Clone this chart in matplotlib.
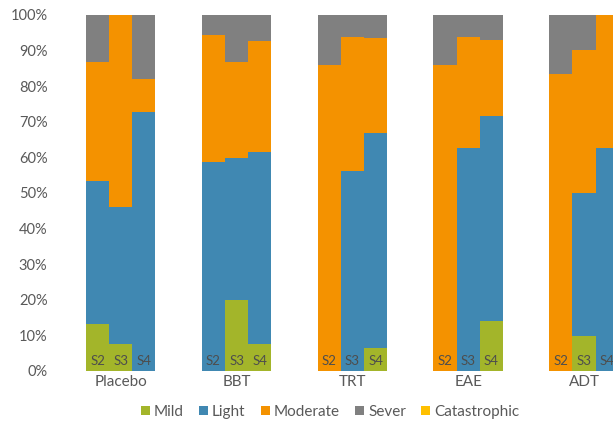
import numpy as np
import matplotlib.pyplot as plt
from matplotlib.patches import Patch

plt.rcParams['font.family'] = ['Lato', 'DejaVu Sans']

groups = ['Placebo', 'BBT', 'TRT', 'EAE', 'ADT']
stages = ['S2', 'S3', 'S4']
levels = ['Mild', 'Light', 'Moderate', 'Sever', 'Catastrophic']
colors = ['#a3b52a', '#4088b2', '#f49200', '#808080', '#ffc000']

# percent per stage, groups in order, stages S2/S3/S4 within each group
mild = [13.1, 7.5, 0.0,   0.0, 19.9, 7.6,   0.0, 0.0, 6.6,    0.0, 0.0, 14.1,   0.0, 9.9, 0.0]
light = [40.3, 38.7, 72.8, 58.7, 39.9, 54.0, 0.0, 56.2, 60.2, 0.0, 62.6, 57.4, 0.0, 40.2, 62.6]
moderate = [33.4, 53.8, 9.2, 35.7, 27.0, 31.0, 85.9, 37.7, 26.8, 85.9, 31.3, 21.5, 83.5, 40.1, 37.4]
sever = [13.2, 0.0, 18.0, 5.6, 13.2, 7.4, 14.1, 6.1, 6.4, 14.1, 6.1, 7.0, 16.5, 9.8, 0.0]
catastrophic = [0.0] * 15

series = [mild, light, moderate, sever, catastrophic]

fig = plt.figure(figsize=(6.13, 4.29), dpi=100)
ax = fig.add_axes([60 / 613, 58 / 429, 553 / 613, 356 / 429])

x = np.array([5 * g + s for g in range(len(groups)) for s in range(len(stages))])
bottom = np.zeros(len(x))
for vals, col in zip(series, colors):
    v = np.array(vals) / 100
    ax.bar(x, v, width=1.0, bottom=bottom, color=col, linewidth=0)
    bottom += v

# stage names at the foot of each bar
for xi, i in zip(x, range(len(x))):
    ax.text(xi, 0.012, stages[i % 3], ha='center', va='bottom',
            fontsize=9.5, color='#4d4d4d')

ax.set_xlim(-1.622, 22.25)
ax.set_ylim(0, 1)
ax.set_yticks(np.linspace(0, 1, 11))
ax.set_yticklabels([f'{int(round(t * 100))}%' for t in np.linspace(0, 1, 11)])
ax.set_xticks([5 * g + 1 for g in range(len(groups))])
ax.set_xticklabels(groups)
ax.tick_params(axis='y', length=0, pad=9, labelsize=10.5, labelcolor='#595959')
ax.tick_params(axis='x', length=0, pad=3, labelsize=11, labelcolor='#595959')
for sp in ax.spines.values():
    sp.set_visible(False)

handles = [Patch(facecolor=c, edgecolor='none') for c in colors]
fig.legend(handles, levels, loc='center', bbox_to_anchor=(330 / 613, 1 - 412 / 429),
           ncol=5, frameon=False, fontsize=11, handlelength=0.6, handleheight=0.6,
           handletextpad=0.25, columnspacing=1.0, labelcolor='#595959')

fig.savefig('out.png', dpi=100)
